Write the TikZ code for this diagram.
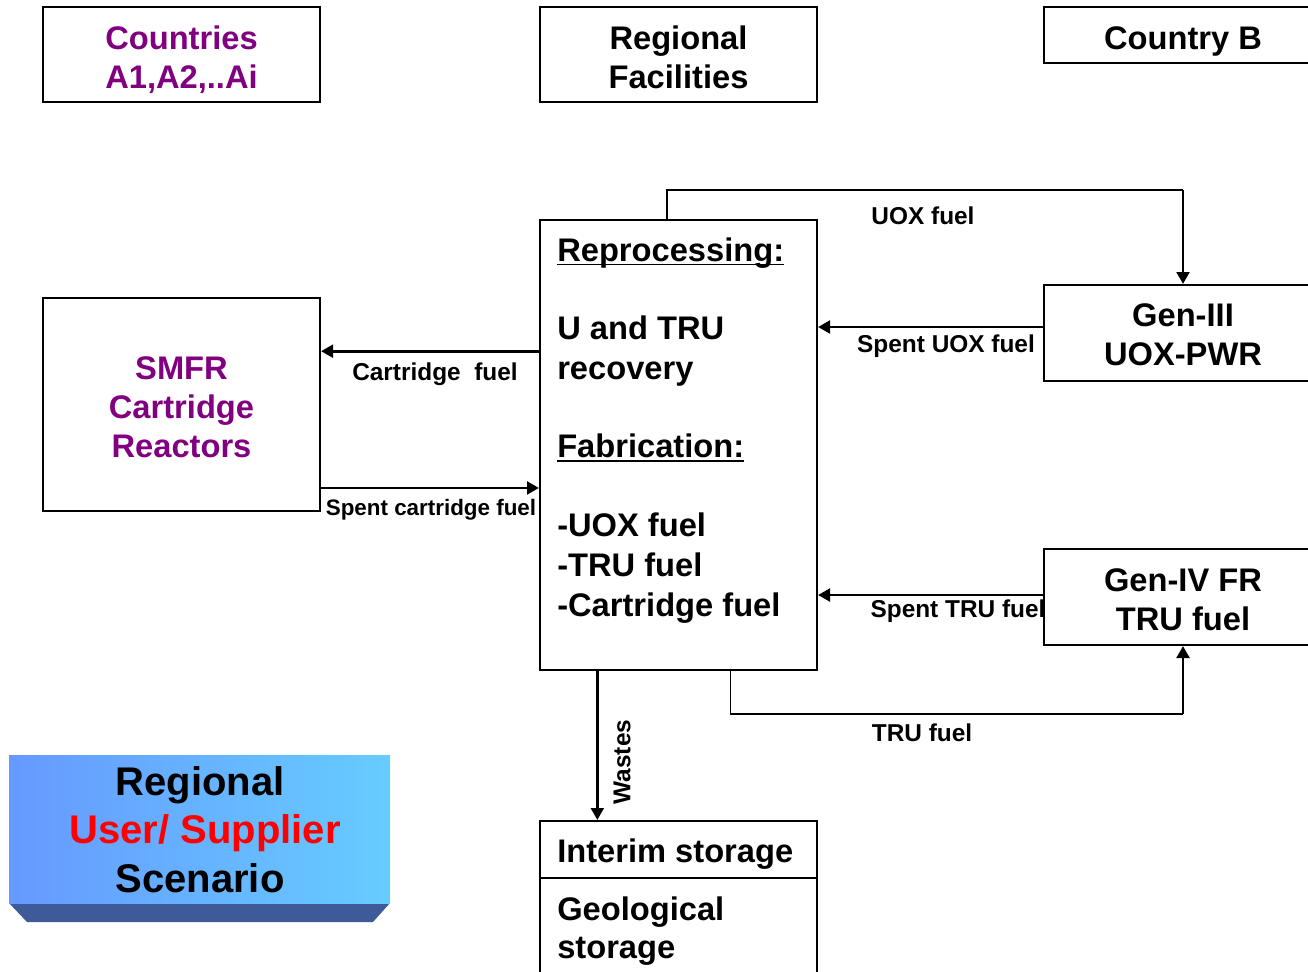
\documentclass[tikz,border=0pt]{standalone}
\usepackage{fontspec}
\setmainfont{Liberation Sans}
\usetikzlibrary{arrows.meta,calc}
\definecolor{mypurple}{HTML}{800080}
\definecolor{myred}{HTML}{FF0000}
\definecolor{shadeL}{HTML}{6699FF}
\definecolor{shadeR}{HTML}{66CCFF}
\definecolor{bevelc}{HTML}{3F5A99}
\newcommand\myul[1]{\setbox0\hbox{#1}\rlap{\rule[-3pt]{\wd0}{1pt}}\box0}
\begin{document}
\begin{tikzpicture}[x=0.75pt,y=-0.75pt,
  box/.style={draw,line width=1.5pt,inner sep=0pt},
  big/.style={font=\fontsize{24.5}{29.3}\selectfont\bfseries,align=center,inner sep=0pt},
  lbl/.style={font=\fontsize{18.3}{22}\selectfont\bfseries,inner sep=0pt},
  slbl/.style={font=\fontsize{16.8}{20}\selectfont\bfseries,inner sep=0pt},
  thinln/.style={line width=1pt},
  thickln/.style={line width=2.2pt},
  tip/.style={-{Triangle[length=9pt,width=9.5pt]}}]
\useasboundingbox (0,0) rectangle (1308,971);
\clip (0,0) rectangle (1308,971);

% header boxes
\node[box,minimum width=207.75pt,minimum height=71.25pt] (countries) at (181.5,54.5) {};
\node[big,text=mypurple] (countriestxt) at (181.5,59.5) {Countries\\A1,A2,..Ai};
\node[box,minimum width=207.75pt,minimum height=71.25pt] (facilities) at (678.5,54.5) {};
\node[big] (facilitiestxt) at (678.5,57.5) {Regional\\Facilities};
\node[box,minimum width=208.5pt,minimum height=42pt] (countryb) at (1183,35) {};
\node[big] (countrybtxt) at (1183,41) {Country B};

% main boxes
\node[box,minimum width=207.75pt,minimum height=337.5pt] (rep) at (678.5,445) {};
\node[anchor=base west,inner sep=0pt,font=\fontsize{24.5}{30}\selectfont\bfseries] (reptext) at (557,261)
 {\renewcommand\arraystretch{1}\begin{tabular}[t]{@{}l@{}}
 \myul{Reprocessing:}\\
 \\[-1pt]
 U and TRU\\
 recovery\\
 \\[-1.5pt]
 \myul{Fabrication:}\\
 \\[-1pt]
 -UOX fuel\\
 -TRU fuel\\
 -Cartridge fuel
 \end{tabular}};

\node[box,minimum width=207.75pt,minimum height=159.75pt] (smfr) at (181.5,404.5) {};
\node[big,text=mypurple] (smfrtxt) at (181.5,407.5) {SMFR\\Cartridge\\Reactors};
\node[box,minimum width=208.5pt,minimum height=72pt] (gen3) at (1183,333) {};
\node[big] (gen3txt) at (1183,335) {Gen-III\\UOX-PWR};
\node[box,minimum width=208.5pt,minimum height=72pt] (gen4) at (1183,597) {};
\node[big] (gen4txt) at (1183,599.5) {Gen-IV FR\\TRU fuel};

\node[box,minimum width=207.75pt,minimum height=42.75pt] (interim) at (678.5,849.5) {};
\node[box,minimum width=207.75pt,minimum height=91.5pt] (geo) at (678.5,939) {};
\node[big,anchor=base west] (interimtext) at (557,862) {Interim storage};
\node[big,anchor=base west] (geotext1) at (557,920) {Geological};
\node[big,anchor=base west] (geotext2) at (557,958) {storage};

% title box
\fill[bevelc] (9,903) -- (390,903) -- (373,922) -- (27,922) -- cycle;
\shade[left color=shadeL,right color=shadeR] (9,755) rectangle (390,903);
\node[anchor=base,inner sep=0pt,font=\fontsize{30}{36.4}\selectfont\bfseries] (title1) at (200,795) {Regional};
\node[anchor=base,inner sep=0pt,font=\fontsize{30}{36.4}\selectfont\bfseries,text=myred] (title2) at (205,843) {User/ Supplier};
\node[anchor=base,inner sep=0pt,font=\fontsize{30}{36.4}\selectfont\bfseries] (title3) at (200,892) {Scenario};

% connectors
\coordinate (uoxs) at ($(rep.north west)!0.4585!(rep.north east)$);
\coordinate (uoxc) at (gen3.north |- 0,190);
\draw[thinln] (uoxs) |- (uoxc);
\draw[thickln,tip] (uoxc) -- (gen3.north);
\node[lbl] (uoxlbl) at (923,216) {UOX fuel};

\coordinate (sus) at ([yshift=4.5pt]gen3.west);
\draw[thickln,tip] (sus) -- (rep.east |- sus);
\node[lbl] (suolbl) at (946,346) {Spent UOX fuel};

\coordinate (cfe) at ([yshift=40pt]smfr.east);
\draw[thickln,tip] (rep.west |- cfe) -- (cfe);
\node[lbl] (cflbl) at (435,374) {Cartridge\ \ fuel};

\coordinate (scs) at ([yshift=-62.6pt]smfr.east);
\draw[thickln,tip] (scs) -- (rep.west |- scs);
\node[slbl] (sclbl) at (431,510) {Spent cartridge fuel};

\coordinate (sts) at ([yshift=1.5pt]gen4.west);
\draw[thickln,tip] (sts) -- (rep.east |- sts);
\node[lbl] (stlbl) at (958,611) {Spent TRU fuel};

\coordinate (trus) at ($(rep.south west)!0.686!(rep.south east)$);
\coordinate (truc) at (gen4.south |- 0,714);
\draw[thinln] (trus) |- (truc);
\draw[thickln,tip] (truc) -- (gen4.south);
\node[lbl] (trulbl) at (922,733) {TRU fuel};

\coordinate (ws) at ($(rep.south west)!0.209!(rep.south east)$);
\draw[thickln,tip] (ws) -- (interim.north -| ws);
\node[lbl,rotate=90] (wlbl) at (622,762) {Wastes};
\end{tikzpicture}
\end{document}
